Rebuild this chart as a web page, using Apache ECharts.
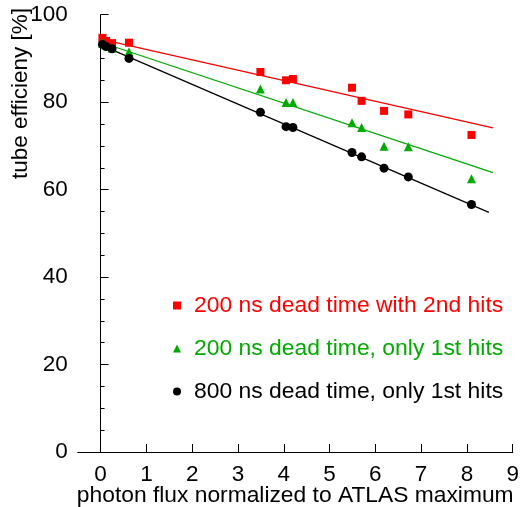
<!DOCTYPE html>
<html>
<head>
<meta charset="utf-8">
<script src="https://cdn.jsdelivr.net/npm/echarts@6/dist/echarts.min.js"></script>
<style>
html,body{margin:0;padding:0;background:#fff;}
#chart{width:525px;height:507px;}
</style>
</head>
<body>
<div id="chart"></div>
<script>
// ---- data ----
const photonFlux = [0.04, 0.12, 0.25, 0.62, 3.49, 4.05, 4.2, 5.49, 5.7, 6.19, 6.72, 8.1];
const eff200with2nd = [94.7, 94.0, 93.5, 93.6, 86.9, 85.0, 85.3, 83.3, 80.3, 78.0, 77.2, 72.5];
const eff200only1st = [93.5, 93.0, 92.4, 91.5, 83.0, 79.9, 79.9, 75.3, 74.2, 69.9, 69.8, 62.5];
const eff800only1st = [93.2, 92.7, 92.2, 90.0, 77.7, 74.4, 74.2, 68.5, 67.5, 64.9, 62.9, 56.6];
// fitted straight lines: [x, y] end points
const fit200with2nd = [[0, 94.4], [8.57, 74.1]];
const fit200only1st = [[0, 93.7], [8.57, 63.9]];
const fit800only1st = [[0, 93.1], [8.48, 54.8]];
const seriesNames = [
  '200 ns dead time with 2nd hits',
  '200 ns dead time, only 1st hits',
  '800 ns dead time, only 1st hits'
];
const xTitle = 'photon flux normalized to ATLAS maximum';
const yTitle = 'tube efficieny [%]';

const colors = ['#ff0000', '#00aa00', '#000000'];
const symbols = ['rect', 'triangle', 'circle'];
const FONT = 'Liberation Sans, Arial, sans-serif';
const FS = 22.5;

function pts(ys) { return photonFlux.map((x, i) => [x, ys[i]]); }

const chart = echarts.init(document.getElementById('chart'), null, {renderer: 'canvas'});
const valueSets = [eff200with2nd, eff200only1st, eff800only1st];
const fits = [fit200with2nd, fit200only1st, fit800only1st];

const series = [];
for (let k = 0; k < 3; k++) {
  series.push({
    type: 'line', data: fits[k], showSymbol: false, silent: true,
    lineStyle: {color: colors[k], width: 1.3}, z: 2, animation: false
  });
}
const symSizes = [8, 9, 9];
for (let k = 0; k < 3; k++) {
  series.push({
    name: seriesNames[k], type: 'scatter', data: pts(valueSets[k]),
    symbol: symbols[k], symbolSize: symSizes[k],
    itemStyle: {color: colors[k], opacity: 1}, z: 3, animation: false
  });
}

chart.setOption({
  animation: false,
  textStyle: {fontFamily: FONT},
  grid: {left: 77.7, right: 12.3, top: 14.7, bottom: 55, containLabel: false, outerBoundsMode: 'none'},
  xAxis: {
    type: 'value', min: -0.5, max: 9, minInterval: 1, maxInterval: 1,
    name: xTitle, nameLocation: 'middle', nameGap: 32, nameMoveOverlap: false,
    nameTextStyle: {fontSize: 22.8, color: '#000', fontFamily: FONT},
    axisLine: {show: true, onZero: false, lineStyle: {color: '#000', width: 1}},
    axisTick: {show: true, inside: true, length: 8, lineStyle: {color: '#000'}},
    axisLabel: {fontSize: FS, color: '#000', margin: 11, showMinLabel: false, fontFamily: FONT},
    splitLine: {show: false}
  },
  yAxis: {
    type: 'value', min: 0, max: 100, interval: 20,
    axisLine: {show: true, lineStyle: {color: '#000', width: 1}},
    axisTick: {show: true, inside: true, length: 8, lineStyle: {color: '#000'}},
    minorTick: {show: true, splitNumber: 4, length: 4, lineStyle: {color: '#000'}},
    axisLabel: {fontSize: FS, color: '#000', margin: 10, fontFamily: FONT},
    splitLine: {show: false}
  },
  legend: {
    orient: 'vertical', left: 168, top: 289,
    itemWidth: 8, itemHeight: 8, itemGap: 20,
    data: seriesNames.map((n, k) => ({
      name: n, icon: symbols[k],
      textStyle: {color: colors[k], fontSize: 22.9, fontFamily: FONT, padding: [0, 0, 0, 8]}
    })),
    selectedMode: false
  },
  graphic: [{
    type: 'text', x: 21, y: 8, rotation: Math.PI / 2,
    style: {
      text: yTitle, fill: '#000', font: FS + 'px ' + FONT,
      textAlign: 'right', textVerticalAlign: 'middle'
    }
  }],
  series: series
});
</script>
</body>
</html>
